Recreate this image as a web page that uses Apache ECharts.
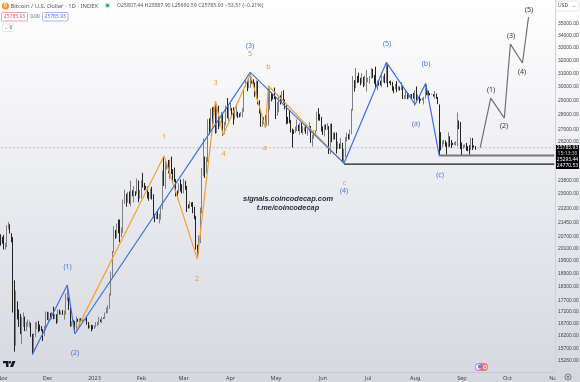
<!DOCTYPE html>
<html>
<head>
<meta charset="utf-8">
<title>Bitcoin / U.S. Dollar</title>
<script src="https://cdn.jsdelivr.net/npm/echarts@6/dist/echarts.min.js"></script>
<style>
html,body{margin:0;padding:0;background:#fff}
#F{width:580px;height:382px;filter:blur(0.4px)}
</style>
</head>
<body>
<div id="F"></div>
<script>
var firstOpen = 20630;
// daily candles, 2022-10-31 to 2023-09-10
var closes = [20495,
20480,20160,20210,21150,21300,20925,20600,18540,15880,17590,17070,16810,16330,16620,16900,16660,16690,16700,16700,16280,15780,16220,16600,16600,16520,16460,16430,16210,16440,17170,
16970,17090,16890,17110,16970,17090,16840,17220,17130,17130,17090,17210,17780,17810,17360,16630,16780,16740,16440,16900,16820,16830,16780,16840,16840,16920,16710,16550,16630,16600,16540,
16610,16670,16670,16850,16830,16950,16940,17120,17180,17440,17940,18850,19930,20950,20880,21180,21130,20680,21080,22680,22780,22710,22920,22630,23060,23010,23080,23030,23740,22830,23130,
23730,23490,23430,23330,22940,22760,23240,22960,21800,21630,21860,21780,21780,22200,24330,23520,24570,24630,24280,24840,24440,24190,23950,23190,23160,23560,23490,23150,
23650,23470,22360,22350,22430,22410,22200,21710,20360,20190,20630,22160,24200,24770,24380,25060,27420,26960,28040,27770,28170,27300,28300,27490,27490,28000,27140,27270,28350,28030,28470,
28470,28190,27800,28170,28170,28040,27920,27950,28330,29650,30230,29890,30400,30480,30320,30310,29430,30390,28820,28240,27260,27820,27590,27520,28310,28420,29470,29340,29240,29230,
28070,28680,29030,28850,29540,28900,28450,27670,27630,27620,26990,26800,26780,26930,27170,27030,27400,26830,26890,27120,26750,26850,27220,26330,26480,26720,26870,28080,27750,27700,27220,
26820,27250,27070,27120,25760,27240,26340,26500,26480,25850,25940,25900,25920,25120,25580,26340,26510,26340,26850,28310,30000,29890,30690,30530,30470,30270,30690,30080,30450,30470,
30590,30620,31160,30770,30510,29900,30350,30290,30170,30410,30620,30380,31470,30320,30300,30250,30140,29860,29910,29800,29910,29790,30080,29180,29230,29350,29210,29320,29360,29280,29230,
29700,29170,29180,29080,29040,29050,29190,29770,29570,29430,29400,29420,29280,29410,29170,28700,26620,26050,26100,26190,26120,26040,26430,26160,26060,26010,26090,26100,27730,27300,25940,
25800,25870,25970,25810,25780,25750,26240,25900,25890,25786];
var highs = [20830,
20700,20800,20390,21300,21470,21350,20880,20680,18590,18130,17650,17300,17110,16980,17170,17000,16770,16880,16820,16740,16290,16310,16770,16780,16820,16670,16600,16480,16620,17220,
17200,17200,17150,17200,17420,17110,17100,17290,17300,17220,17270,17250,18000,18370,17830,17500,16800,16860,16810,17000,16910,16930,16930,16880,16880,16930,16960,16770,16650,16660,16640,
16630,16770,16780,16990,16880,16990,16960,17170,17390,17490,18000,19000,19990,21250,21050,21390,21600,21600,21180,22690,23250,23020,23130,23150,23770,23220,23470,23160,23900,23790,23240,
23790,24240,23650,23480,23430,23120,23310,23420,22990,21900,21900,22070,21900,22300,24370,25250,24990,24850,25020,25050,25230,24460,24560,23870,23200,23620,23850,23570,
23880,23770,23480,22420,22600,22530,22550,22290,21800,20300,20770,22250,24530,26380,25240,25200,27670,27730,28400,28500,28540,28760,28730,28600,27790,28180,28030,27480,28610,29160,28630,
28800,28450,28490,28420,28720,28180,28080,28170,28430,29770,30530,30450,30600,31000,30530,30530,30310,30450,30400,28990,28340,27860,27800,27950,28370,29970,29850,29560,29440,29920,
29300,28900,29250,29350,29650,29720,29050,28650,27830,28300,27630,27040,26960,27190,27650,27300,27450,27470,27190,27130,27270,26990,27470,27210,26620,26920,26930,28200,28430,28030,27830,
27180,27310,27320,27400,27200,27360,27370,26780,26770,26780,26190,26060,26410,26110,25730,26480,26760,26670,26980,28390,30780,30470,31400,30790,31040,30650,31000,30720,30820,31260,
30660,30780,31390,31320,30870,31500,30450,30380,30430,31050,30790,30970,31840,31630,30390,30440,30340,30000,30190,30400,30000,29990,30330,30100,29380,29680,29570,29510,29440,29450,29530,
29720,30000,29410,29310,29100,29170,29240,30180,30110,29700,29520,29470,29440,29670,29480,29230,28700,26800,26260,26290,26260,26130,26790,26530,26290,26100,26160,26200,28140,27580,27480,
26130,25980,26000,26100,25890,25950,26430,26420,25950,25888];
var lows = [20250,
20350,20060,20050,20180,21080,20870,20420,17170,15590,15820,16880,16570,16280,15890,16570,16400,16400,16580,16550,16170,15480,15620,16170,16480,16350,16400,16400,16000,16200,16430,
16860,16800,16880,16880,16890,16900,16700,16740,17080,17090,17070,16870,17080,17660,17280,16580,16580,16690,16400,16390,16780,16570,16770,16780,16780,16830,16660,16500,16520,16390,16470,
16490,16550,16600,16660,16770,16720,16910,16900,17120,17140,17320,17900,18720,19900,20600,20640,20880,20420,20680,20900,22450,22300,22520,22460,22320,22870,22530,22890,23000,22540,22740,
22760,23370,23210,23260,22760,22630,22740,22690,21690,21460,21620,21620,21400,21590,22150,23470,23300,24440,24210,23880,24170,23630,23700,22870,22780,23070,23150,23030,
23040,23240,22010,22200,22200,22300,21940,21610,20060,19630,19820,20380,21930,24060,23940,24180,24900,26660,26890,27200,27370,26710,26730,27000,27180,27410,26570,26670,27250,27730,27550,
28250,27860,27300,27650,27850,27760,27800,27860,27800,28170,29960,29650,29860,29910,30220,30130,29240,29100,28700,28060,27160,27170,27370,27210,27200,27250,28320,28920,29050,29080,
27680,27900,28150,28700,28830,28800,28350,27330,27370,27400,26780,25800,26680,26750,26870,26870,26630,26750,26640,26850,26690,26570,26830,26100,25870,26370,26640,26870,27580,27570,26840,
26620,26520,26960,26950,25400,25370,26140,26300,26320,25420,25700,25720,25740,24880,24810,25180,26190,26320,26310,26660,28260,29620,29880,30260,30300,30080,30220,29950,30040,29620,
30320,30200,30590,30630,30200,29870,29710,30060,30070,29950,30310,30240,30250,29950,30250,30080,29690,29500,29770,29580,29710,29700,29740,29090,29060,29100,29070,29130,29260,29060,29100,
28600,28980,29100,28770,28970,28990,28700,29120,29360,29330,29350,29400,29260,29100,29100,28720,25300,25620,25800,26000,25860,25360,25800,25860,25780,25960,25970,25920,25880,27000,25700,
25330,25720,25800,25600,25570,25350,25630,25640,25800,25660];

var blueWave = [['2022-11-21',15495],['2022-12-14',18380],['2022-12-19',16285],['2023-04-14',31066],['2023-06-15',24815],['2023-07-13',31840],['2023-08-01',28700],['2023-08-08',30230],['2023-08-17',25260]];
var orangeWave = [['2022-12-20',16440],['2023-02-16',25290],['2023-03-10',19590],['2023-03-22',28940],['2023-03-27',26620],['2023-04-14',30900],['2023-04-24',27070],['2023-04-26',30050],['2023-06-15',24815]];
var greyWave = [['2023-09-13',25785.93],['2023-09-20',29150],['2023-09-29',27750],['2023-10-03',33310],['2023-10-11',31785],['2023-10-15',35610]];

var lastPrice = 25785.93;
var level1 = 25293.44;
var level2 = 24770.53;
var yTicks = [35000,34000,33000,32000,31000,30000,29000,28000,27000,26200,23800,23000,22200,21450,20700,20100,19500,18900,18300,17700,17200,16700,16200,15700,15260];
var xTickDates = ['2022-11-01','2022-12-01','2023-01-01','2023-02-01','2023-03-01','2023-04-01','2023-05-01','2023-06-01','2023-07-01','2023-08-01','2023-09-01','2023-10-01','2023-11-01'];
var xTickNames = ['Nov','Dec','2023','Feb','Mar','Apr','May','Jun','Jul','Aug','Sep','Oct','Nov'];

var BLUE = '#3f6fe6', ORANGE = '#f5a02e', GREY = '#707070';
var FONT = '"Noto Sans", sans-serif';

// one category per day, the axis runs on past the last candle
var dates = [];
for (var n = 0; n < 367; n++) {
    var dd = new Date(2022, 9, 31 + n);
    dates.push(dd.getFullYear() + '-' + String(dd.getMonth() + 1).padStart(2, '0') + '-' + String(dd.getDate()).padStart(2, '0'));
}
var candles = [];
for (var i = 0; i < closes.length; i++) {
    var open = i == 0 ? firstOpen : closes[i - 1];
    candles.push([open, closes[i], lows[i], highs[i]]);
}
var xFirst = dates[0], xLast = dates[dates.length - 1];

function waveLine(name, data, color, width, z, dash) {
    return {
        name: name,
        type: 'line',
        data: data,
        symbol: 'none',
        silent: true,
        z: z,
        animation: false,
        lineStyle: {color: color, width: width, type: dash || 'solid'}
    };
}

function txt(x, y, text, color, size, extra) {
    var style = {x: x, y: y, text: text, fill: color, fontSize: size, fontFamily: FONT, textAlign: 'center', textVerticalAlign: 'middle'};
    for (var k in extra) style[k] = extra[k];
    return {type: 'text', z: 100, style: style};
}
function box(x, y, w, h, stroke, fill, r) {
    return {type: 'rect', z: 99, shape: {x: x, y: y, width: w, height: h, r: r === undefined ? 1 : r}, style: {fill: fill || 'none', stroke: stroke || 'none', lineWidth: 1}};
}
function dot(x, y, r, fill, stroke) {
    return {type: 'circle', z: 100, shape: {cx: x, cy: y, r: r}, style: {fill: fill, stroke: stroke || 'none', lineWidth: 0.8}};
}

// wave labels, centred on their pixel spot
var blueLabels = [['(1)',67.5,267],['(2)',75,353],['(3)',250,46],['(4)',344,191],['(5)',387,44],['(a)',416,124],['(b)',426,64],['(c)',440,175]];
var orangeLabels = [['1',164,137],['2',197,279],['3',215.5,83],['4',223.5,154],['5',250,54],['b',268.5,67],['a',265,148],['c',344.5,183]];
var greyLabels = [['(1)',491,90],['(2)',504,126],['(3)',511,36],['(4)',522,72],['(5)',529,9.5]];

var graphics = [];
blueLabels.forEach(function (l) { graphics.push(txt(l[1], l[2], l[0], '#4472dc', 7)); });
orangeLabels.forEach(function (l) { graphics.push(txt(l[1], l[2], l[0], '#f09a28', 7)); });
greyLabels.forEach(function (l) { graphics.push(txt(l[1], l[2], l[0], '#333', 7)); });

graphics.push(
    txt(288, 198.5, 'signals.coincodecap.com', '#2a2e39', 7.4, {fontWeight: 'bold', fontStyle: 'italic', fontFamily: '"Liberation Sans", sans-serif'}),
    txt(288, 207.5, 't.me/coincodecap', '#2a2e39', 7.4, {fontWeight: 'bold', fontStyle: 'italic', fontFamily: '"Liberation Sans", sans-serif'}),

    // header
    dot(5.5, 6, 3.5, '#f7931a'),
    txt(5.5, 6, '₿', '#fff', 5),
    txt(10.5, 6, 'Bitcoin / U.S. Dollar · 1D · INDEX', '#555', 5.9, {textAlign: 'left'}),
    dot(107.5, 5.5, 3, '#c9efe4'),
    dot(107.5, 5.5, 1.4, '#089981'),
    txt(117, 6, 'O25807.44 H25887.90 L25660.59 C25785.93 −53.51 (−0.21%)', '#555', 5.2, {textAlign: 'left'}),
    box(1.5, 12.5, 26, 8.5, '#e8a4a9', '#fff'),
    txt(14.5, 16.8, '25785.93', '#d9535f', 5),
    txt(35, 16.8, '0.00', '#555', 4.5),
    box(42.5, 12.5, 25.5, 8.5, '#a3b8ec', '#fff'),
    txt(55.2, 16.8, '25785.93', '#4a72e2', 5),
    box(2.5, 24, 11.5, 7.5, '#e6e6e6', '#fff'),
    txt(8.2, 27.8, '⌄ 6', '#555', 5),

    // right hand panel
    box(556, 1, 23, 10, '#e6e6e6', '#fff'),
    txt(558, 6, 'USD', '#444', 5, {textAlign: 'left'}),
    txt(574, 5.5, '⌄', '#555', 5),
    box(556, 145, 23, 24, null, '#000', 0),
    txt(567.5, 147.8, lastPrice.toFixed(2), '#fff', 5),
    txt(567.5, 153.3, '15:13:30', '#ccc', 5),
    txt(567.5, 160, level1.toFixed(2), '#fff', 5),
    txt(567.5, 166, level2.toFixed(2), '#fff', 5),
    {type: 'rect', z: 98, shape: {x: 555.5, y: 372.5, width: 25, height: 10}, style: {fill: '#d6d8e0'}},
    dot(568, 377, 3, 'none', '#666'),
    dot(568, 377, 1, 'none', '#666'),

    // TV logo
    {type: 'polygon', z: 100, shape: {points: [[3,361],[8.5,361],[8.5,367],[6,367],[6,363.3],[3,363.3]]}, style: {fill: '#131722'}},
    dot(10, 362.3, 1.2, '#131722'),
    {type: 'polygon', z: 100, shape: {points: [[12.5,361],[15.5,361],[13,367],[10,367]]}, style: {fill: '#131722'}},

    // events badge
    box(475, 363, 13, 8, null, '#f0757a', 4),
    dot(478.5, 367, 3.2, '#fff', '#c766cc'),
    {type: 'rect', z: 101, shape: {x: 478, y: 365, width: 4, height: 3.5}, style: {fill: '#5b8ee0'}},
    dot(485, 367, 1.6, 'none', '#fff')
);

var myChart = echarts.init(document.getElementById('F'), null, {renderer: 'canvas'});
var option = {
    animation: false,
    backgroundColor: new echarts.graphic.LinearGradient(0, 0, 0, 1, [
        {offset: 0, color: '#ffffff'},
        {offset: 1, color: '#d6d8e0'}
    ]),
    grid: {left: 0, right: 25, top: 0, bottom: 10, outerBoundsMode: 'none'},
    xAxis: {
        type: 'category',
        data: dates,
        boundaryGap: true,
        splitLine: {show: false},
        axisTick: {show: false},
        axisLine: {show: true, onZero: false, lineStyle: {color: '#c6c8d0', width: 1}},
        axisLabel: {
            fontSize: 5.5,
            fontFamily: FONT,
            color: '#444',
            margin: 3,
            interval: function (index, value) { return xTickDates.indexOf(value) >= 0; },
            formatter: function (value) { return xTickNames[xTickDates.indexOf(value)]; }
        }
    },
    yAxis: {
        type: 'log',
        logBase: 10,
        min: 14826,
        max: 37137,
        position: 'right',
        splitLine: {show: false},
        axisTick: {show: false},
        axisLine: {show: true, lineStyle: {color: '#d0d2da', width: 1}},
        axisLabel: {
            customValues: yTicks,
            fontSize: 5,
            fontFamily: '"Liberation Sans", sans-serif',
            color: '#444',
            margin: 3,
            formatter: function (v) { return Number(v).toFixed(2); }
        }
    },
    series: [
        {
            name: 'BTCUSD',
            type: 'candlestick',
            data: candles,
            barWidth: 1,
            z: 3,
            itemStyle: {color: '#8a8a8a', color0: '#222', borderColor: '#808080', borderColor0: '#222', borderWidth: 1}
        },
        waveLine('last', [[xFirst, lastPrice], [xLast, lastPrice]], '#b9bbc2', 1, 2, [2, 2]),
        waveLine('level1', [['2023-08-17', level1], [xLast, level1]], '#777', 2, 4),
        waveLine('level2', [['2023-06-15', level2], [xLast, level2]], '#1a1a1a', 1.2, 4),
        waveLine('orange', orangeWave, ORANGE, 1.2, 5),
        waveLine('blue', blueWave, BLUE, 1.2, 6),
        waveLine('grey', greyWave, GREY, 1.2, 6)
    ],
    graphic: graphics
};
myChart.setOption(option);
</script>
</body>
</html>
